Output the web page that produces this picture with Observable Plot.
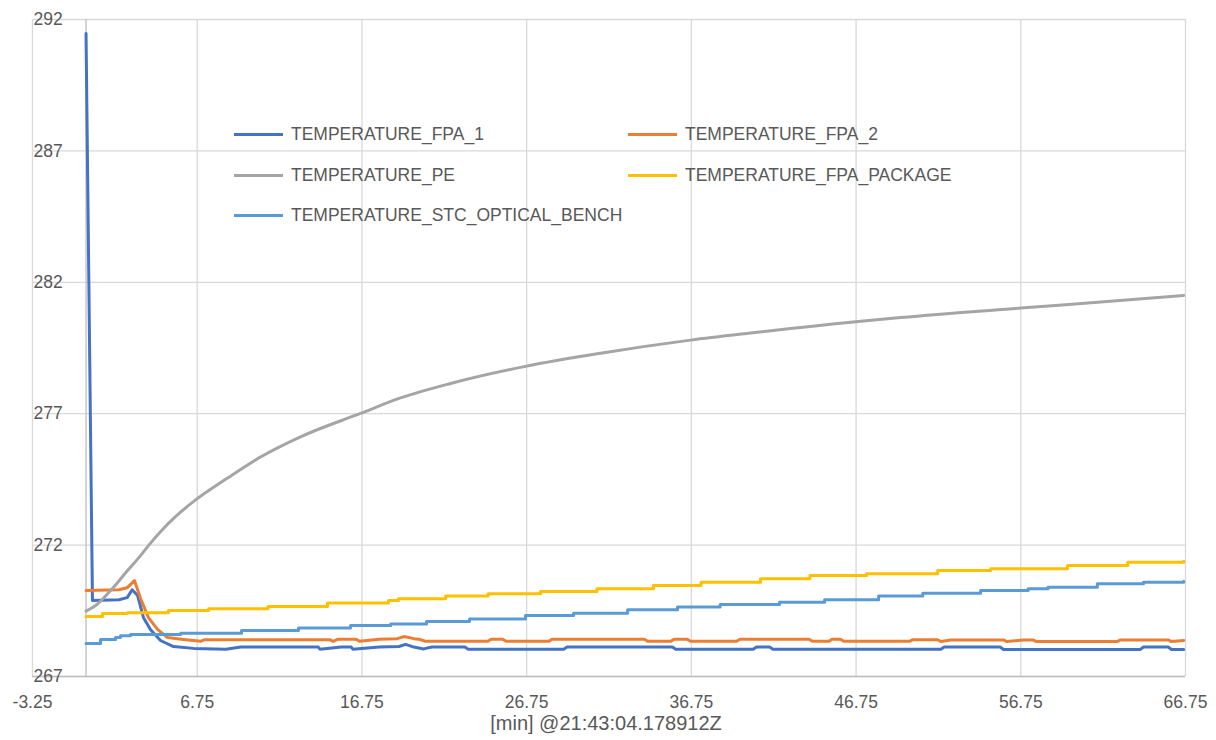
<!DOCTYPE html>
<html>
<head>
<meta charset="utf-8">
<script src="https://cdn.jsdelivr.net/npm/d3@7"></script>
<script src="https://cdn.jsdelivr.net/npm/@observablehq/plot@0.6"></script>
<style>
  body { margin: 0; background: #ffffff; }
  #wrap { position: relative; width: 1216px; height: 740px; overflow: hidden; }
  .leg { position: absolute; display: flex; align-items: center; height: 20px;
         font-family: "Liberation Sans", Arial, sans-serif; font-size: 17.5px; color: #595959; white-space: nowrap; }
  .leg .sw { display: inline-block; width: 49px; height: 3px; margin-right: 8px; }
</style>
</head>
<body>
<div id="wrap"></div>
<script>
// ---- data ----
const seriesNames = ["TEMPERATURE_FPA_1", "TEMPERATURE_FPA_2", "TEMPERATURE_PE", "TEMPERATURE_FPA_PACKAGE", "TEMPERATURE_STC_OPTICAL_BENCH"];
const seriesColors = ["#4472C4", "#ED7D31", "#A5A5A5", "#FFC000", "#5B9BD5"];
const xTicks = [-3.25, 6.75, 16.75, 26.75, 36.75, 46.75, 56.75, 66.75];
const yTicks = [267, 272, 277, 282, 287, 292];
const xTitle = "[min] @21:43:04.178912Z";

const fpa1T = [0, 0.39, 2.0, 2.5, 2.80, 3.13, 3.49, 3.91, 4.52, 5.31, 6.53, 8.5, 9.4, 14.1, 14.2, 15.5, 16.1, 16.2, 17.8, 19.0, 19.4, 19.9, 20.5, 21.0, 23.0, 23.2, 29.0, 29.2, 35.6, 35.8, 40.5, 40.7, 41.5, 41.7, 51.9, 52.1, 55.5, 55.7, 64.0, 64.2, 65.7, 65.9, 66.64];
const fpa1V = [291.47, 269.89, 269.92, 270.0, 270.30, 270.08, 269.24, 268.79, 268.37, 268.14, 268.07, 268.04, 268.12, 268.12, 268.04, 268.12, 268.12, 268.04, 268.12, 268.14, 268.22, 268.12, 268.05, 268.12, 268.12, 268.04, 268.04, 268.12, 268.12, 268.04, 268.04, 268.12, 268.12, 268.04, 268.04, 268.12, 268.12, 268.03, 268.03, 268.12, 268.12, 268.03, 268.03];

const fpa2T = [0, 2.0, 2.5, 2.94, 3.31, 3.79, 4.34, 4.95, 5.92, 6.95, 7.2, 14.8, 15.0, 15.3, 16.4, 16.6, 17.8, 18.9, 19.3, 19.9, 20.2, 20.6, 24.4, 24.6, 25.3, 25.5, 28.1, 28.3, 33.9, 34.1, 35.5, 35.7, 36.5, 36.7, 39.5, 39.7, 43.9, 44.1, 45.1, 45.3, 45.8, 46.0, 50.0, 50.2, 51.7, 51.9, 52.5, 55.7, 55.9, 56.9, 57.5, 57.7, 62.6, 62.8, 65.7, 65.9, 66.64];
const fpa2V = [270.27, 270.30, 270.38, 270.65, 269.97, 269.24, 268.79, 268.48, 268.41, 268.34, 268.40, 268.40, 268.34, 268.42, 268.42, 268.34, 268.42, 268.44, 268.52, 268.44, 268.42, 268.34, 268.34, 268.42, 268.42, 268.34, 268.34, 268.42, 268.42, 268.34, 268.34, 268.42, 268.42, 268.34, 268.34, 268.42, 268.42, 268.34, 268.34, 268.42, 268.42, 268.34, 268.34, 268.40, 268.40, 268.33, 268.39, 268.39, 268.33, 268.39, 268.39, 268.33, 268.33, 268.39, 268.39, 268.33, 268.37];

const peT = [0, 0.45, 1.49, 2.52, 3.31, 3.79, 4.52, 5.43, 6.65, 8.59, 10.59, 13.02, 16.66, 19.09, 22.13, 26.68, 31.24, 36.7, 40.34, 46.72, 49.45, 56.74, 61.6, 66.64];
const peV = [269.49, 269.64, 270.27, 271.03, 271.60, 271.98, 272.51, 273.08, 273.72, 274.55, 275.35, 276.12, 277.01, 277.60, 278.15, 278.80, 279.30, 279.80, 280.07, 280.50, 280.66, 281.02, 281.25, 281.50];

const pkgT = [0, 1.0, 2.5, 5.0, 7.44, 11.05, 14.66, 18.36, 18.97, 21.83, 24.41, 27.59, 31.02, 34.45, 37.34, 40.95, 43.95, 47.39, 51.7, 54.92, 59.59, 63.24, 66.64];
const pkgV = [269.28, 269.40, 269.43, 269.51, 269.58, 269.66, 269.80, 269.89, 269.96, 270.06, 270.15, 270.23, 270.34, 270.46, 270.59, 270.72, 270.84, 270.91, 271.03, 271.10, 271.22, 271.35, 271.39];

const stcT = [0, 0.88, 1.79, 2.09, 2.7, 5.74, 9.44, 12.9, 16.06, 18.5, 20.67, 23.28, 26.68, 29.6, 32.88, 35.91, 38.5, 42.1, 44.84, 48.12, 50.8, 54.31, 57.2, 58.4, 61.4, 64.2, 66.64];
const stcV = [268.26, 268.41, 268.48, 268.55, 268.60, 268.65, 268.75, 268.85, 268.94, 269.00, 269.09, 269.19, 269.32, 269.41, 269.54, 269.64, 269.74, 269.83, 269.92, 270.06, 270.17, 270.27, 270.34, 270.40, 270.53, 270.59, 270.62];

// ---- build tables ----
const rows = (name, T, V) => T.map((t, i) => ({series: name, t, v: V[i]}));
const d1 = rows(seriesNames[0], fpa1T, fpa1V);
const d2 = rows(seriesNames[1], fpa2T, fpa2V);
const d3s = rows(seriesNames[2], peT, peV);
const d4 = rows(seriesNames[3], pkgT, pkgV);
const d5 = rows(seriesNames[4], stcT, stcV);

const FONT = "'Liberation Sans', Arial, sans-serif";
const lineOpts = {x: "t", y: "v", stroke: "series", strokeWidth: 3, strokeLinejoin: "round", strokeLinecap: "round"};

const chart = Plot.plot({
  width: 1216,
  height: 740,
  marginLeft: 32,
  marginRight: 31,
  marginTop: 19,
  marginBottom: 64,
  style: {fontFamily: FONT, fontSize: "17.5px", color: "#595959", background: "#ffffff"},
  x: {domain: [-3.25, 66.75]},
  y: {domain: [267, 292], axis: null},
  color: {domain: seriesNames, range: seriesColors},
  marks: [
    Plot.gridX(xTicks, {stroke: "#d9d9d9", strokeOpacity: 1, strokeWidth: 1.3}),
    Plot.gridY(yTicks, {stroke: "#d9d9d9", strokeOpacity: 1, strokeWidth: 1.3}),
    Plot.ruleX([0], {stroke: "#bfbfbf", strokeWidth: 1.3}),
    Plot.ruleY([267], {stroke: "#bfbfbf", strokeWidth: 1.3}),
    Plot.axisX(xTicks, {tickSize: 0, tickPadding: 19, tickFormat: d => d.toFixed(2), label: null, fill: "#595959"}),
    Plot.text(yTicks, {y: d => d, frameAnchor: "left", textAnchor: "start", dx: 1, text: d => String(d), fill: "#595959", fontSize: 17.5}),
    Plot.line(d1, lineOpts),
    Plot.line(d2, lineOpts),
    Plot.line(d3s, {...lineOpts, curve: "monotone-x"}),
    Plot.line(d4, {...lineOpts, curve: "step-after"}),
    Plot.line(d5, {...lineOpts, curve: "step-after"}),
    Plot.text([xTitle], {frameAnchor: "bottom", dx: -3, dy: 53, fill: "#595959", fontSize: 20})
  ]
});

const wrap = document.getElementById("wrap");
wrap.appendChild(chart);

// ---- legend overlay (inside plot area, two columns) ----
const legCols = [234, 628];
const legRowsY = [124, 165, 205];
seriesNames.forEach((name, i) => {
  const el = document.createElement("div");
  el.className = "leg";
  el.style.left = legCols[i % 2] + "px";
  el.style.top = legRowsY[Math.floor(i / 2)] + "px";
  const sw = document.createElement("span");
  sw.className = "sw";
  sw.style.background = seriesColors[i];
  const tx = document.createElement("span");
  tx.textContent = name;
  el.appendChild(sw);
  el.appendChild(tx);
  wrap.appendChild(el);
});
</script>
</body>
</html>
